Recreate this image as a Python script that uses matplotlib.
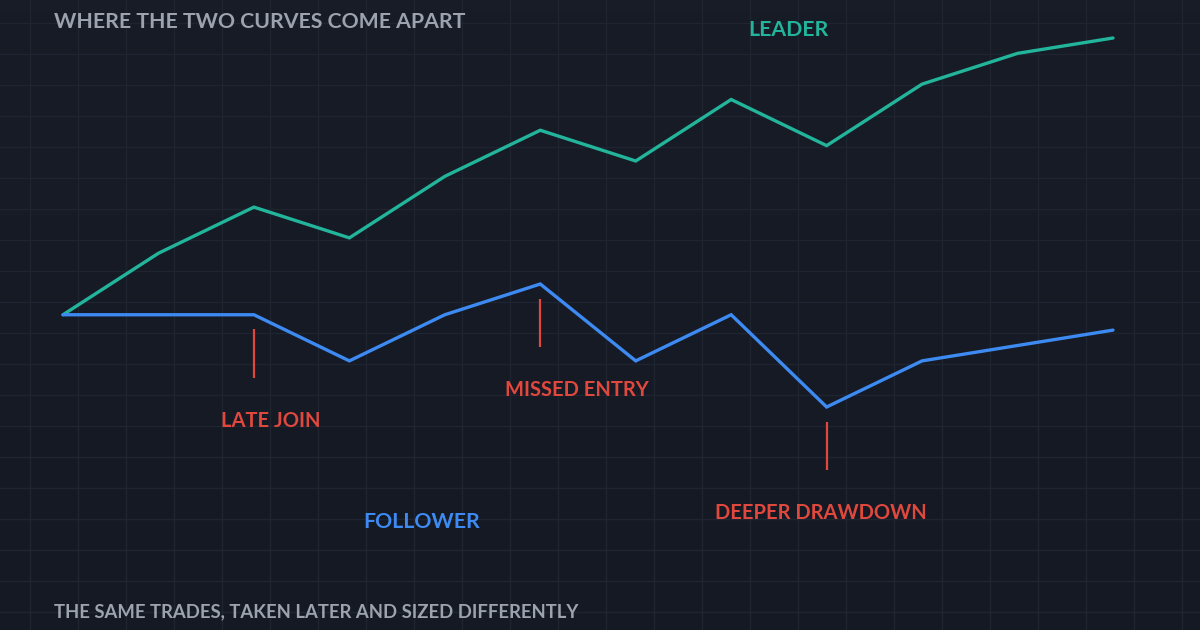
import numpy as np
import matplotlib
matplotlib.use("Agg")
import matplotlib.pyplot as plt

# equity curves, same trades - leader vs follower
periods = list(range(12))
leader = [100, 104, 107, 105, 109, 112, 110, 114, 111, 115, 117, 118]
follower = [100, 100, 100, 97, 100, 102, 97, 100, 94, 97, 98, 99]

event_idx = [2, 5, 8]
event_labels = ["LATE JOIN", "MISSED ENTRY", "DEEPER DRAWDOWN"]
event_dx = [17, 37, -6]  # label shift in px

title = "WHERE THE TWO CURVES COME APART"
subtitle = "THE SAME TRADES, TAKEN LATER AND SIZED DIFFERENTLY"

BG = "#161a25"
GRID = "#1f2431"
TEAL = "#22b59b"
BLUE = "#3d8bf2"
RED = "#e0483e"
MUTED = "#9ca2ae"
FONT = "Lato"

W, H = 1200, 630
fig = plt.figure(figsize=(12, 6.3), dpi=100, facecolor=BG)

# background grid over the whole canvas (pixel space)
bg = fig.add_axes([0, 0, 1, 1])
bg.set_xlim(0, W)
bg.set_ylim(H, 0)
bg.set_facecolor(BG)
bg.axis("off")
# faint vertical shading, a bit darker toward the bottom
shade = np.linspace(0, 1, 64).reshape(-1, 1)
bg.imshow(shade, extent=(0, W, H, 0), cmap=matplotlib.colors.LinearSegmentedColormap.from_list(
    "bgfade", ["#181c27", "#141923"]), aspect="auto", zorder=0, origin="upper")
for gx in np.arange(30, W, 48):
    bg.axvline(gx, color=GRID, lw=1, zorder=1)
for gy in np.arange(22.5, H, 31):
    bg.axhline(gy, color=GRID, lw=1, zorder=1)
bg.set_xlim(0, W)
bg.set_ylim(H, 0)

# data axes: index 0 -> 63px, 11 -> 1113px ; 118 -> 38px, 94 -> 407px
ax = fig.add_axes([63 / W, 1 - 407 / H, 1050 / W, (407 - 38) / H])
ax.set_xlim(0, 11)
ax.set_ylim(94, 118)
ax.patch.set_alpha(0)
ax.axis("off")

ax.plot(periods, leader, color=TEAL, lw=2.4, solid_joinstyle="miter",
        solid_capstyle="round", clip_on=False, zorder=3)
ax.plot(periods, follower, color=BLUE, lw=2.4, solid_joinstyle="miter",
        solid_capstyle="round", clip_on=False, zorder=3)

for i, lab, dx in zip(event_idx, event_labels, event_dx):
    v = follower[i]
    ax.vlines(i, v - 4.1, v - 0.95, color=RED, lw=1.6, clip_on=False, zorder=2)
    ax.annotate(lab, xy=(i, v), xytext=(dx, -106), textcoords="offset pixels",
                ha="center", va="center", color=RED, fontsize=14.5,
                fontweight="bold", family=FONT, annotation_clip=False)

bg.text(788.5, 30, "LEADER", color=TEAL, fontsize=15.3, fontweight="bold",
        family=FONT, ha="center", va="center")
bg.text(421.5, 522, "FOLLOWER", color=BLUE, fontsize=15.3, fontweight="bold",
        family=FONT, ha="center", va="center")

bg.text(54, 22, title, color=MUTED, fontsize=15.3, fontweight="bold",
        family=FONT, ha="left", va="center")
bg.text(54, 612, subtitle, color=MUTED, fontsize=13.3, fontweight="bold",
        family=FONT, ha="left", va="center")

fig.savefig("out.png", dpi=100, facecolor=BG)
